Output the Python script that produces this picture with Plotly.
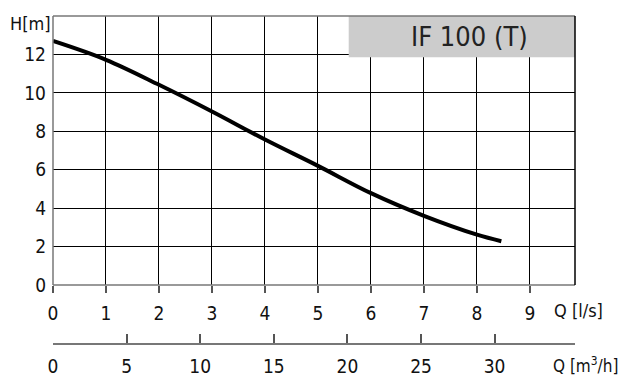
import plotly.graph_objects as go

# Data
q_ls = [0, 1, 2, 3, 4, 5, 6, 7, 8, 8.46]
h_m = [12.7, 11.72, 10.42, 9.03, 7.57, 6.2, 4.78, 3.6, 2.62, 2.28]
x_ticks = [0, 1, 2, 3, 4, 5, 6, 7, 8, 9]
y_ticks = [0, 2, 4, 6, 8, 10, 12]
x2_ticks = [0, 5, 10, 15, 20, 25, 30]
title_text = "IF 100 (T)"
conv = 3.6  # l/s -> m3/h

W, H = 619, 378
L, R, T, B = 53, 44, 16, 34
xmax = 9.85
ymax = 14
plot_bottom_px = 285
paper_h = H - T - B
paper_w = W - L - R
ydom0 = (H - B - plot_bottom_px) / paper_h

FONT = "DejaVu Sans Condensed, Liberation Sans Narrow, Arial Narrow, sans-serif"

fig = go.Figure()
fig.add_trace(go.Scatter(x=q_ls, y=h_m, mode="lines", line=dict(color="black", width=4, shape="spline"),
                         showlegend=False, hoverinfo="skip"))
fig.add_trace(go.Scatter(x=[None], y=[None], xaxis="x2", yaxis="y", mode="lines",
                         showlegend=False, hoverinfo="skip"))

fig.update_layout(
    width=W, height=H,
    margin=dict(l=L, r=R, t=T, b=B, autoexpand=False),
    paper_bgcolor="white", plot_bgcolor="white",
    font=dict(family=FONT, size=19, color="#111"),
    xaxis=dict(range=[0, xmax], tickvals=x_ticks, showgrid=True, gridcolor="black", gridwidth=1,
               zeroline=False, showline=False, ticks="outside", ticklen=7, tickcolor="#555",
               tickwidth=1.5, anchor="y", ticklabelstandoff=4, automargin=False),
    xaxis2=dict(range=[0, xmax * conv], tickvals=x2_ticks, overlaying="x", anchor="free", position=0,
                side="bottom", showgrid=False, zeroline=False, showline=True, linecolor="#777",
                linewidth=1.5, ticks="inside", ticklen=9, tickcolor="#555", tickwidth=1.5,
                ticklabelstandoff=5, automargin=False),
    yaxis=dict(range=[0, ymax], domain=[ydom0, 1], tickvals=y_ticks, showgrid=True, gridcolor="black",
               gridwidth=1, zeroline=False, showline=False, ticks="", ticklabelstandoff=6,
               automargin=False),
)

# title box
fig.add_shape(type="rect", xref="x domain", yref="y domain", x0=(349 - 53.3) / 522, x1=1,
              y0=(285 - 57.3) / 269, y1=1, fillcolor="#cccccc", line=dict(width=0), layer="above")
# frame
fig.add_shape(type="line", xref="x domain", yref="y domain", x0=0, x1=0, y0=0, y1=1,
              line=dict(color="#777", width=1.5), layer="above")
fig.add_shape(type="line", xref="x domain", yref="y domain", x0=0, x1=1, y0=0, y1=0,
              line=dict(color="#777", width=1.5), layer="above")
fig.add_shape(type="line", xref="x domain", yref="y domain", x0=0, x1=1, y0=1, y1=1,
              line=dict(color="#777", width=1.5), layer="above")
fig.add_shape(type="line", xref="x domain", yref="y domain", x0=1, x1=1, y0=0, y1=1,
              line=dict(color="black", width=1.5), layer="above")

fig.add_annotation(text=title_text, xref="x domain", yref="y domain", x=0.798, y=0.922,
                   showarrow=False, font=dict(size=27, color="#222", family=FONT),
                   xanchor="center", yanchor="middle")
fig.add_annotation(text="H[m]", xref="paper", yref="paper", x=-45 / paper_w, y=(H - B - 23) / paper_h,
                   xanchor="left", yanchor="middle", showarrow=False, font=dict(size=18))
fig.add_annotation(text="Q [l/s]", xref="paper", yref="paper", x=(552 - L) / paper_w,
                   y=(H - B - 310) / paper_h, xanchor="left", yanchor="middle", showarrow=False,
                   font=dict(size=18))
fig.add_annotation(text="Q [m<sup>3</sup>/h]", xref="paper", yref="paper", x=(551 - L) / paper_w,
                   y=(H - B - 365) / paper_h, xanchor="left", yanchor="middle", showarrow=False,
                   font=dict(size=17))

fig.write_html("out.html")
